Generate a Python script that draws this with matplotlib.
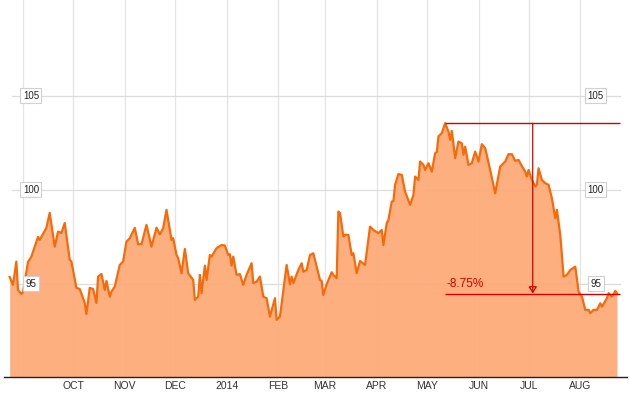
import matplotlib
matplotlib.use('Agg')
import matplotlib.pyplot as plt
import matplotlib.transforms as mtransforms
import pandas as pd

# price history (day offsets from 2013-09-01)
start = pd.Timestamp('2013-09-01')
days = [
    -8, -6, -4, -3, -1, 0, 3, 5, 9, 10,
    14, 16, 19, 21, 23, 25, 28, 29, 32, 34,
    37, 38, 40, 42, 44, 45, 47, 49, 50, 52,
    53, 55, 58, 60, 62, 64, 67, 69, 71, 74,
    77, 80, 82, 84, 86, 89, 90, 92, 93, 95,
    97, 99, 102, 103, 105, 106, 107, 109, 110, 112,
    113, 116, 119, 121, 123, 124, 125, 126, 128, 130,
    132, 134, 137, 138, 140, 142, 144, 146, 148, 151,
    152, 154, 158, 160, 161, 162, 165, 167, 168, 170,
    172, 174, 178, 179, 180, 182, 185, 186, 188, 189,
    190, 192, 193, 195, 197, 198, 200, 202, 205, 208,
    210, 213, 215, 216, 218, 219, 221, 222, 223, 225,
    227, 229, 232, 234, 235, 237, 238, 240, 241, 243,
    245, 247, 248, 249, 251, 253, 255, 256, 257, 259,
    261, 263, 264, 265, 267, 269, 271, 273, 275, 277,
    280, 283, 286, 287, 289, 291, 293, 295, 297, 298,
    301, 302, 303, 305, 307, 308, 309, 311, 313, 315,
    317, 319, 320, 322, 324, 326, 328, 331, 333, 335,
    337, 339, 340, 342, 344, 346, 347, 350, 351, 353,
    355, 356,
]
prices = [
    95.37, 94.95, 96.19, 94.68, 94.47, 94.57, 96.17, 96.45, 97.50, 97.34,
    97.98, 98.78, 96.98, 97.78, 97.71, 98.24, 96.28, 96.19, 94.79, 94.73,
    93.99, 93.40, 94.79, 94.73, 93.99, 95.39, 95.53, 94.68, 95.16, 94.32,
    94.59, 94.86, 96.01, 96.19, 97.25, 97.43, 97.98, 97.11, 97.11, 98.14,
    96.98, 97.99, 97.64, 97.96, 98.94, 97.34, 97.43, 96.54, 96.37, 95.57,
    96.86, 95.57, 95.21, 94.15, 94.32, 95.48, 94.51, 95.97, 95.21, 96.54,
    96.45, 96.90, 97.07, 97.04, 96.54, 96.58, 95.97, 96.45, 95.48, 95.52,
    94.95, 95.48, 96.10, 95.04, 95.12, 95.39, 94.32, 94.24, 93.26, 94.24,
    93.09, 93.26, 96.01, 94.98, 95.39, 95.04, 95.74, 96.10, 95.65, 95.74,
    96.54, 96.63, 95.21, 95.16, 94.41, 94.98, 95.62, 95.48, 95.30, 98.85,
    98.76, 97.52, 97.61, 97.61, 96.54, 96.63, 95.57, 96.22, 96.01, 98.05,
    97.87, 97.70, 97.87, 97.07, 98.23, 98.40, 99.38, 99.41, 100.27, 100.84,
    100.80, 99.91, 99.20, 99.73, 100.71, 100.53, 101.51, 101.33, 101.06, 101.42,
    100.97, 101.95, 102.01, 102.84, 103.02, 103.55, 103.10, 102.66, 103.14, 101.69,
    102.57, 102.48, 101.86, 102.30, 101.33, 101.42, 102.04, 101.51, 102.43, 102.22,
    101.06, 99.82, 101.24, 101.33, 101.51, 101.90, 101.90, 101.54, 101.60, 101.42,
    100.97, 100.71, 101.06, 100.53, 100.18, 100.27, 101.15, 100.53, 100.36, 100.27,
    99.56, 98.49, 98.94, 97.61, 95.39, 95.48, 95.74, 95.92, 94.59, 94.32,
    93.62, 93.62, 93.44, 93.62, 93.62, 93.97, 93.79, 94.24, 94.51, 94.32,
    94.63, 94.49,
]
month_ticks = ['2013-10-01', '2013-11-01', '2013-12-01', '2014-01-01', '2014-02-01',
               '2014-03-01', '2014-04-01', '2014-05-01', '2014-06-01', '2014-07-01',
               '2014-08-01']
month_labels = ['OCT', 'NOV', 'DEC', '2014', 'FEB', 'MAR', 'APR', 'MAY', 'JUN', 'JUL', 'AUG']
y_ticks = [95, 100, 105]
change_label = '-8.75%'

LINE = '#f66a0a'
FILL = '#fdaa78'
RED = '#d40000'

dates = start + pd.to_timedelta(days, unit='D')

fig = plt.figure(figsize=(6.3, 3.93), dpi=100)
ax = fig.add_axes([4 / 630, 16 / 393, 623 / 630, 377 / 393])
ax.set_xlim(start - pd.Timedelta(days=11.4), start + pd.Timedelta(days=362))
ax.set_ylim(90.05, 110.1)

# grid
for m in pd.date_range('2013-09-01', '2014-08-01', freq='MS'):
    ax.axvline(m, color='#e4e4e4', lw=0.9, zorder=0)
for v in y_ticks:
    ax.axhline(v, xmin=0.013, xmax=0.989, color='#dcdcdc', lw=0.9, zorder=0)

ax.fill_between(dates, prices, 90.05, color=FILL, alpha=0.94, lw=0, zorder=1)
ax.plot(dates, prices, color=LINE, lw=1.6, zorder=2)

# y labels in little boxes on both sides
trans = mtransforms.blended_transform_factory(ax.transAxes, ax.transData)
box = dict(boxstyle='square,pad=0.25', fc='white', ec='#d0d0d0', lw=0.8)
for v in y_ticks:
    for xf in (0.0433, 0.950):
        ax.text(xf, v, str(v), transform=trans, ha='center', va='center',
                fontsize=7, family='Liberation Sans', color='#222', bbox=box, zorder=4)

# drawdown marker from peak to last close
i_peak = prices.index(max(prices))
peak_d, peak_v = dates[i_peak], prices[i_peak]
last_v = prices[-1]
right = dates[-1] + pd.Timedelta(days=2)
mid = peak_d + (right - peak_d) / 2
ax.hlines([peak_v, last_v], peak_d, right, color=RED, lw=1, zorder=3)
ax.annotate('', xy=(mid, last_v), xytext=(mid, peak_v),
            arrowprops=dict(arrowstyle='-|>,head_length=0.4,head_width=0.25',
                            ec=RED, fc='none', lw=0.9, shrinkA=0, shrinkB=0), zorder=3)
ax.annotate(change_label, xy=(peak_d, last_v), xytext=(1, 2.5), textcoords='offset points',
            ha='left', va='bottom', color=RED, fontsize=8.5, family='Liberation Sans', zorder=4)

ax.set_xticks(pd.to_datetime(month_ticks))
ax.set_xticklabels(month_labels, fontsize=7.5, family='Liberation Sans', color='#333')
ax.tick_params(axis='x', length=0, pad=3)
ax.set_yticks([])
for s in ['top', 'left', 'right']:
    ax.spines[s].set_visible(False)
ax.spines['bottom'].set_color('#222')
ax.spines['bottom'].set_linewidth(1)

fig.savefig('out.png', dpi=100)
